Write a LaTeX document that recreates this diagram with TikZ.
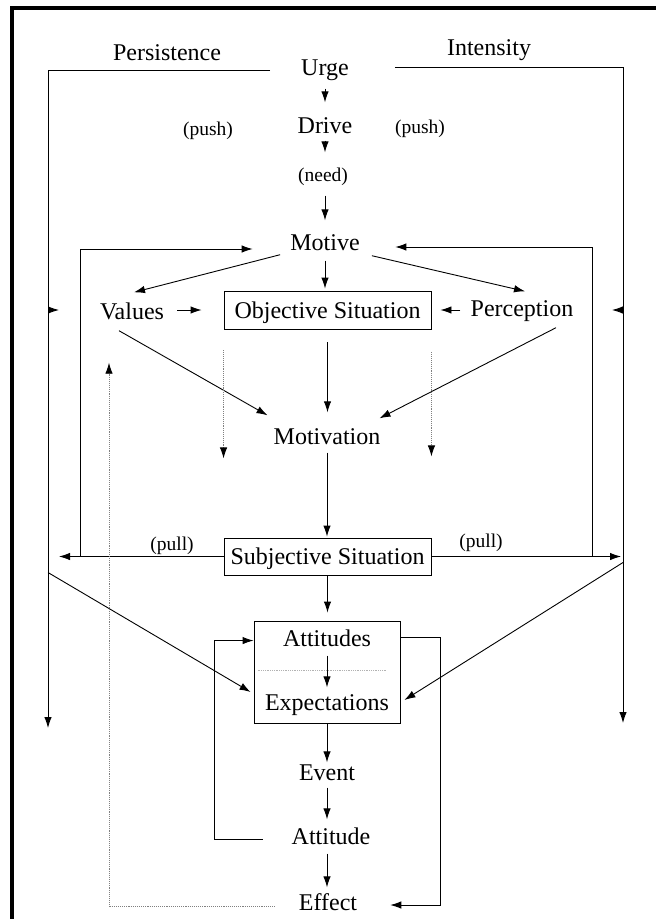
\documentclass[tikz,border=0pt]{standalone}
\usepackage{fontspec}
\setmainfont{Liberation Serif}
\usetikzlibrary{arrows.meta,calc}
\begin{document}
\begin{tikzpicture}[x=1pt,y=-1pt,
  every node/.style={inner sep=0pt},
  lbl/.style={font=\fontsize{24}{27}\selectfont, text height=16pt, text depth=5pt},
  sml/.style={font=\fontsize{19.5}{22}\selectfont, text height=13pt, text depth=4pt},
  boxed/.style={lbl, text height=18.5pt, text depth=2.5pt, draw, line width=0.9pt, minimum width=207pt},
  plain/.style={line width=0.9pt},
  link/.style={plain, -{Latex[length=11pt,width=7.5pt]}},
  faint/.style={plain, gray, densely dotted, -{Latex[length=11pt,width=7.5pt,color=black]}}]
\useasboundingbox (0,0) rectangle (656,919);

% frame along the top and left edges
\draw[line width=4pt] (656,8) -- (12,8) -- (12,919);

% labels and concepts
\node[lbl] (persistence) at (167,55) {Persistence};
\node[lbl] (intensity) at (489,50) {Intensity};
\node[lbl] (urge) at (325,70) {Urge};
\node[lbl] (drive) at (325,128) {Drive};
\node[sml] (pushL) at (208,131) {(push)};
\node[sml] (pushR) at (420,129) {(push)};
\node[sml] (need) at (323,177) {(need)};
\node[lbl] (motive) at (325,245) {Motive};
\node[lbl] (values) at (132,314) {Values};
\node[boxed, minimum height=38pt] (obj) at (327.5,310) {Objective Situation};
\node[lbl] (perc) at (522,311) {Perception};
\node[lbl] (motivation) at (327,439) {Motivation};
\node[boxed, minimum height=37pt] (subj) at (327.5,556.5) {Subjective Situation};
\node[sml] (pullL) at (172,546) {(pull)};
\node[sml] (pullR) at (481,543) {(pull)};
\node[draw, line width=0.9pt, minimum width=146pt, minimum height=102pt] (attbox) at (327,672) {};
\node[lbl] (attitudes) at (327,641) {Attitudes};
\node[lbl] (expect) at (327,705) {Expectations};
\node[lbl] (event) at (327,775) {Event};
\node[lbl] (attitude) at (331,839) {Attitude};
\node[lbl] (effect) at (328,905) {Effect};

% reference points for the outer and inner loops
\coordinate (pl1) at (48,70);  \coordinate (pl2) at (48,728);
\coordinate (pr1) at (623,67); \coordinate (pr2) at (623,723);
\coordinate (lx) at (80,0);  \coordinate (rx) at (592,0);
\coordinate (ix) at (214,0); \coordinate (ox) at (440,0);
\coordinate (dx) at (109,0);

% persistence and intensity lines
\draw[link] ($(urge.west)+(-31,0)$) -| (pl2);
\draw[link] ($(urge.east)+(46,-3)$) -| (pr2);
\draw[link] (pl1 |- obj) -- ++(11,0);
\draw[link] (pr1 |- obj) -- ++(-11,0);

% central column
\draw[link, shorten <=8pt, shorten >=15pt] (urge.south) -- (drive.north);
\draw[link, shorten <=2pt, shorten >=16pt] (drive.south) -- (drive.south |- need.north);
\draw[link, shorten <=10pt, shorten >=14pt] (drive.south |- need.south) -- (motive.north);
\draw[link, shorten <=5pt, shorten >=2pt] (motive.south) -- (motive.south |- obj.north);
\draw[link, shorten <=13pt, shorten >=16pt] (obj.south) -- (obj.south |- motivation.north);
\draw[link, shorten <=3pt, shorten >=1pt] (motivation.south) -- (motivation.south |- subj.north);
\draw[link, shorten <=1pt, shorten >=8pt] (subj.south) -- (subj.south |- attbox.north);
\draw[link, shorten <=4pt, shorten >=7pt] (attitudes.south) -- (expect.north);
\draw[link, shorten >=2pt] (attbox.south) -- (event.north);
\draw[link, shorten <=2pt, shorten >=9pt] (event.south) -- (event.south |- attitude.north);
\draw[link, shorten <=4pt, shorten >=7pt] (event.south |- attitude.south) -- (event.south |- effect.north);

% feedback to the motive
\draw[link, shorten >=37.5pt] (lx |- subj.west) |- ($(motive.west)+(0,4)$);
\draw[link, shorten >=35.5pt] (rx |- subj.east) |- ($(motive.east)+(0,2)$);

% motive, values, perception
\draw[link] ($(motive.south west)+(-10,-1)$) -- ($(values.north)+(2,-11)$);
\draw[link] ($(motive.south east)+(12,0)$) -- ($(perc.north)+(3,-9)$);
\draw[link, shorten <=13pt, shorten >=22pt] (values.east |- obj.west) -- (obj.west);
\draw[link, shorten <=10pt, shorten >=9pt] (perc.west |- obj.east) -- (obj.east);
\draw[link] ($(values.south)+(-13,6)$) -- ($(motivation.north west)+(-6,-13)$);
\draw[link] ($(perc.south)+(34,6)$) -- ($(motivation.north east)+(-1,-10)$);
\draw[faint] ($(obj.south west)+(0,21)$) -- ++(0,108);
\draw[faint] ($(obj.south east)+(0,23)$) -- ++(0,104);

% pull from the subjective situation
\draw[link, shorten >=11pt] (subj.west) -- (subj.west -| pl1);
\draw[link, shorten >=2pt] (subj.east) -- (subj.east -| pr1);
\draw[link] ($(subj.west -| pl1)+(0,16)$) -- ($(attbox.west)+(-3,20)$);
\draw[link] ($(subj.east -| pr1)+(0,6)$) -- ($(attbox.east)+(4,28)$);

% attitudes and expectations
\draw[gray!60, densely dotted, line width=0.8pt] ($(attbox.west)+(4,-2)$) -- ($(attbox.east)+(-15,-2)$);
\draw[link] ($(attitude.west)+(-28.5,0)$) -- (ix |- attitude.west) |- ($(attbox.north west)+(0,20)$);
\draw[link, shorten >=33pt] ($(attbox.north east)+(0,17)$) -| (ox |- effect.east) -- (effect.east);
\draw[faint] ($(effect.west)+(-24,1)$) -| ($(dx |- values.south)+(0,38)$);
\end{tikzpicture}
\end{document}
